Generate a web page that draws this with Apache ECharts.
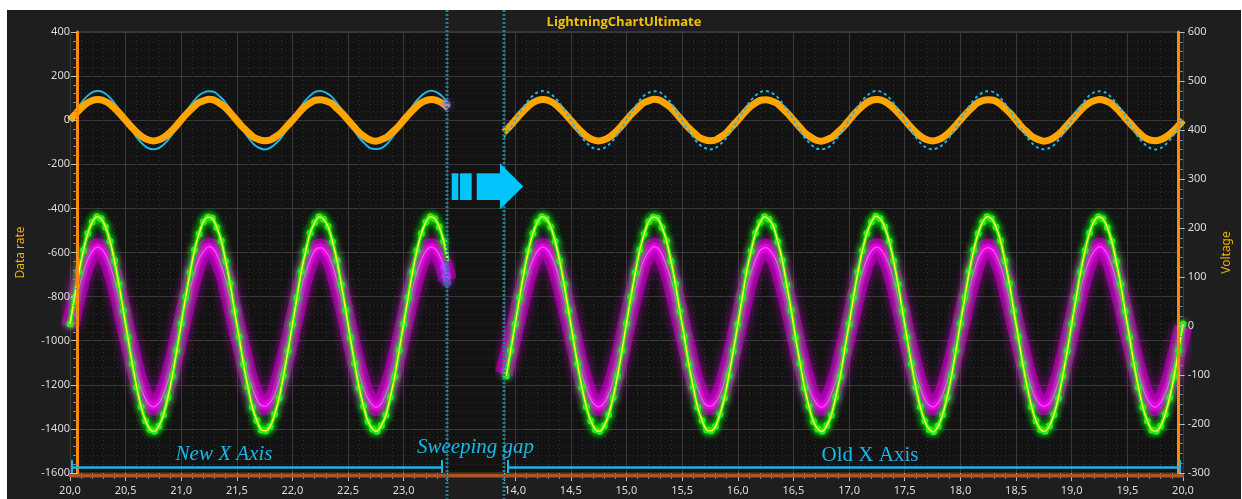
<!DOCTYPE html>
<html><head><meta charset="utf-8">
<script src="https://cdn.jsdelivr.net/npm/echarts@6/dist/echarts.min.js"></script>
<style>html,body{margin:0;padding:0;background:#fff;}#c{position:absolute;left:7px;top:10px;width:1234px;height:489px;}</style>
</head><body><div id="c"></div><script>
// ---- data ----
const yLeftTicks = { min: -1600, max: 400, step: 200 };
const yRightTicks = { min: -300, max: 600, step: 100 };
const newAxisRange = [20.0, 23.39];
const oldAxisRange = [13.9, 20.0];

// sampled every 0.05 s
const lineStep = 0.05;
const newLineStart = 20.0;
const oldLineStart = 13.9;
const cyanNew = [
 0,41,78,107,126,132,126,107,78,41,0,-41,-78,-107,-126,-132,-126,-107,-78,-41,
 1,42,77,108,125,131,127,106,79,40,-1,-42,-77,-108,-125,-133,-126,-106,-79,-40,
 0,40,79,107,127,132,125,108,77,42,1,-40,-79,-106,-127,-131,-127,-108,-77,-42,
 1,41,78,106,126,133,126,107,78];
const cyanOld = [-78,-41,
 0,41,78,107,126,132,126,107,78,41,0,-41,-78,-107,-126,-132,-126,-107,-78,-41,
 1,42,77,108,125,131,127,106,79,40,-1,-42,-77,-108,-125,-133,-126,-106,-79,-40,
 0,40,79,107,127,132,125,108,77,42,1,-40,-79,-106,-127,-131,-127,-108,-77,-42,
 1,41,78,106,126,133,126,107,78,41,0,-41,-78,-107,-126,-132,-125,-107,-78,-41,
 0,42,78,107,125,132,127,107,77,41,-1,-41,-77,-107,-126,-132,-126,-108,-78,-40,
 0,41,77,108,126,131,126,106,78,42,0,-42,-78,-106,-125,-133,-127,-107,-79,-41,
 0];
const orangeNew = [
 0,29,55,76,89,94,89,76,55,29,0,-29,-55,-76,-89,-94,-89,-76,-55,-29,
 1,30,54,77,88,95,90,75,56,28,-1,-30,-54,-77,-88,-93,-90,-75,-56,-28,
 -1,28,56,75,90,93,88,77,54,30,1,-28,-56,-75,-90,-95,-88,-77,-54,-30,
 0,29,55,76,89,94,89,76,55];
const orangeOld = [-55,-29,
 0,29,55,76,89,94,89,76,55,29,0,-29,-55,-76,-89,-94,-89,-76,-55,-29,
 1,30,54,77,88,95,90,75,56,28,-1,-30,-54,-77,-88,-93,-90,-75,-56,-28,
 -1,28,56,75,90,93,88,77,54,30,1,-28,-56,-75,-90,-95,-88,-77,-54,-30,
 0,30,55,76,90,94,89,75,55,29,1,-29,-55,-76,-89,-94,-89,-76,-55,-29,
 1,29,54,77,89,93,90,76,54,30,0,-30,-54,-76,-88,-95,-90,-76,-56,-28,
 0,28,56,76,88,94,89,77,55,28,-1,-28,-55,-77,-89,-93,-88,-75,-55,-30,
 0];
const magentaNew = [
 -2,48,94,130,153,161,153,130,94,48,-2,-52,-98,-134,-157,-165,-157,-134,-98,-52,
 -1,49,93,131,152,162,154,129,95,47,-3,-51,-99,-133,-158,-164,-156,-135,-97,-53,
 -3,47,95,129,154,160,152,131,93,49,-1,-53,-97,-135,-156,-166,-158,-133,-99,-51,
 -2,48,94,130,153,161,153,130,94];
const magentaOld = [-98,-52,
 -2,48,94,130,153,161,153,130,94,48,-2,-52,-98,-134,-157,-165,-157,-134,-98,-52,
 -1,49,93,131,152,162,154,129,95,47,-3,-51,-99,-133,-158,-164,-156,-135,-97,-53,
 -3,47,95,129,154,160,152,131,93,49,-1,-53,-97,-135,-156,-166,-158,-133,-99,-51,
 -2,49,94,130,153,161,152,130,95,48,-2,-52,-98,-133,-157,-165,-157,-134,-98,-52,
 -1,48,93,131,154,160,153,129,94,47,-2,-51,-97,-134,-156,-164,-158,-135,-99,-53,
 -2,47,95,130,152,162,154,131,93,48,-3,-53,-98,-134,-157,-166,-156,-133,-97,-51,
 -2];

// sampled every 0.04 s
const greenStep = 0.04;
const greenNewStart = 20.0;
const greenOldStart = 13.92;
const greenNew = [
 4,58,110,154,189,212,223,219,202,173,133,85,31,-23,-77,-125,-165,-194,-211,-215,-204,-181,-146,-102,-50,
 5,59,109,155,188,213,222,220,201,174,132,86,30,-22,-78,-124,-166,-193,-212,-214,-205,-180,-147,-101,-51,
 3,57,111,153,190,211,223,218,203,172,134,84,32,-24,-76,-126,-164,-195,-210,-215,-203,-182,-145,-103,-49,
 4,58,110,154,189,212,223,219,202,173,133];
const greenOld = [-102,-50,
 4,58,110,154,189,212,223,219,202,173,133,85,31,-23,-77,-125,-165,-194,-211,-215,-204,-181,-146,-102,-50,
 5,59,109,155,188,213,222,220,201,174,132,86,30,-22,-78,-124,-166,-193,-212,-214,-205,-180,-147,-101,-51,
 3,57,111,153,190,211,223,218,203,172,134,84,32,-24,-76,-126,-164,-195,-210,-215,-203,-182,-145,-103,-49,
 4,59,110,154,189,212,224,219,202,173,133,85,31,-23,-77,-125,-165,-194,-211,-216,-204,-181,-146,-102,-50,
 5,58,111,155,189,212,223,219,202,174,133,86,31,-22,-77,-124,-165,-194,-211,-215,-204,-181,-147,-102,-51,
 4,57,110,154,190,213,223,219,201,173,132,85,30,-23,-78,-125,-166,-194,-212,-215,-204,-180,-146,-103,-50,
 4];
// sweep head samples
const headLeft = [[23.385, 70]];
const headRight = [[23.37, 120], [23.38, 102], [23.39, 88]];

const title = 'LightningChartUltimate';
const yLeftName = 'Data rate';
const yRightName = 'Voltage';

// ---- build ----
function pairs(start, step, vals) { return vals.map((v, i) => [+(start + i * step).toFixed(2), v]); }
const fmtX = v => v.toFixed(1).replace('.', ',');
const fmtY = v => String(v);
const FONT = 'Noto Sans';
const GRID = { top: 22, height: 441 };
const majorSplit = { show: true, lineStyle: { color: '#3a3a3a', width: 1 } };
const minorSplit = { show: true, lineStyle: { color: '#2f2f2f', width: 1, type: [1, 3] } };
const xLabel = { color: '#dcdcdc', fontSize: 11, fontFamily: FONT, margin: 12, formatter: fmtX };

function xAxisFor(gi, range, opts) {
  return Object.assign({
    type: 'value', gridIndex: gi, position: 'bottom', min: range[0], max: range[1],
    axisLine: { show: false, onZero: false },
    axisTick: { show: true, length: 8, lineStyle: { color: '#bdbdbd' } },
    minorTick: { show: true, splitNumber: 5, length: 6, lineStyle: { color: '#8a8a8a' } },
    splitLine: majorSplit, minorSplitLine: minorSplit
  }, opts);
}
function hiddenY(gi, t) { return { type: 'value', gridIndex: gi, min: t.min, max: t.max, interval: t.step, show: false, axisLine: { onZero: false }, splitLine: { show: false } }; }

const chart = echarts.init(document.getElementById('c'));
chart.setOption({
  backgroundColor: '#1e1e1e',
  animation: false,
  title: { text: title, left: 'center', top: 1, textStyle: { color: '#f2c200', fontSize: 13, fontWeight: 'bold', fontFamily: 'Open Sans' } },
  grid: [
    Object.assign({ left: 63, width: 1113, show: true, backgroundColor: '#131313', borderColor: '#6e4418', borderWidth: 1, z: -1 }, GRID),
    Object.assign({ left: 63, width: 377 }, GRID),
    Object.assign({ left: 497, width: 679 }, GRID)
  ],
  xAxis: [
    { type: 'value', gridIndex: 0, min: 0, max: 1, axisLine: { show: false, onZero: false },
      axisTick: { show: false }, axisLabel: { show: false }, splitLine: { show: false } },
    xAxisFor(1, newAxisRange, { interval: 0.5, axisLabel: Object.assign({ showMaxLabel: false }, xLabel) }),
    xAxisFor(2, oldAxisRange, { minInterval: 0.5, maxInterval: 0.5, splitNumber: 12, axisLabel: Object.assign({ showMinLabel: false }, xLabel) })
  ],
  yAxis: [
    { type: 'value', gridIndex: 0, position: 'left', min: yLeftTicks.min, max: yLeftTicks.max, interval: yLeftTicks.step, z: 10,
      name: yLeftName, nameLocation: 'middle', nameGap: 50, nameRotate: 90, nameTextStyle: { color: '#e8b400', fontSize: 12, fontFamily: FONT },
      axisLine: { show: true, onZero: false, lineStyle: { color: '#ff8c00', width: 3 } },
      axisTick: { show: true, length: 6, lineStyle: { color: '#bdbdbd' } },
      minorTick: { show: true, splitNumber: 5, length: 4, lineStyle: { color: '#8a8a8a' } },
      axisLabel: { color: '#dcdcdc', fontSize: 11, fontFamily: FONT, margin: 7, formatter: fmtY },
      splitLine: { show: false } },
    { type: 'value', gridIndex: 0, position: 'right', min: yRightTicks.min, max: yRightTicks.max, interval: yRightTicks.step, z: 10,
      name: yRightName, nameLocation: 'middle', nameGap: 42, nameRotate: 90, nameTextStyle: { color: '#e8b400', fontSize: 12, fontFamily: FONT },
      axisLine: { show: true, onZero: false, lineStyle: { color: '#ff8c00', width: 3 } },
      axisTick: { show: true, length: 6, lineStyle: { color: '#bdbdbd' } },
      minorTick: { show: true, splitNumber: 5, length: 4, lineStyle: { color: '#8a8a8a' } },
      axisLabel: { color: '#dcdcdc', fontSize: 11, fontFamily: FONT, margin: 9, formatter: fmtY },
      splitLine: { show: false } },
    hiddenY(1, yLeftTicks), hiddenY(1, yRightTicks),
    hiddenY(2, yLeftTicks), hiddenY(2, yRightTicks),
    // horizontal grid lines (behind the series)
    { type: 'value', gridIndex: 0, position: 'left', min: yLeftTicks.min, max: yLeftTicks.max, interval: yLeftTicks.step, z: 0,
      axisLine: { show: false, onZero: false }, axisTick: { show: false }, axisLabel: { show: false },
      minorTick: { show: false, splitNumber: 5 }, splitLine: majorSplit, minorSplitLine: minorSplit }
  ],
  series: [].concat(...[[1, 2, 3, true], [2, 4, 5, false]].map(([xi, yl, yr, isNew]) => {
    const ls = isNew ? newLineStart : oldLineStart;
    const gs = isNew ? greenNewStart : greenOldStart;
    const mag = pairs(ls, lineStep, isNew ? magentaNew : magentaOld);
    const grn = pairs(gs, greenStep, isNew ? greenNew : greenOld);
    const out = [
      { type: 'line', xAxisIndex: xi, yAxisIndex: yr, data: mag, smooth: 0.3, showSymbol: false, z: 2,
        lineStyle: { color: 'rgba(190,0,190,0.6)', width: 18, shadowBlur: 10, shadowColor: 'rgba(210,0,210,1)' } },
      { type: 'line', xAxisIndex: xi, yAxisIndex: yr, data: mag, smooth: 0.3, showSymbol: false, z: 3,
        lineStyle: { color: 'rgba(230,0,230,0.85)', width: 7, shadowBlur: 5, shadowColor: '#e000e0' } },
      { type: 'line', xAxisIndex: xi, yAxisIndex: yr, data: mag, smooth: 0.3, showSymbol: false, z: 4,
        lineStyle: { color: '#ff50ff', width: 1.2 } },
      { type: 'line', xAxisIndex: xi, yAxisIndex: yr, data: grn, smooth: 0.3, symbol: 'circle', symbolSize: 7, showSymbol: true, z: 5,
        itemStyle: { color: '#2fe62f', shadowBlur: 6, shadowColor: '#00ff00' },
        lineStyle: { color: '#22dd22', width: 4, shadowBlur: 7, shadowColor: '#00ff00' } },
      { type: 'line', xAxisIndex: xi, yAxisIndex: yr, data: grn, smooth: 0.3, showSymbol: false, z: 6,
        lineStyle: { color: '#ffff20', width: 1.5 } },
      { type: 'line', xAxisIndex: xi, yAxisIndex: yl, data: pairs(ls, lineStep, isNew ? cyanNew : cyanOld), smooth: 0.3, showSymbol: false, z: isNew ? 5 : 8,
        lineStyle: { color: '#1eb6ea', width: 2, type: isNew ? 'solid' : [3, 3] } },
      { type: 'line', xAxisIndex: xi, yAxisIndex: yl, data: pairs(ls, lineStep, isNew ? orangeNew : orangeOld), smooth: 0.3, showSymbol: false, z: 7,
        lineStyle: { color: '#ffa500', width: 7 } }
    ];
    if (isNew) {
      out.push({ type: 'scatter', xAxisIndex: xi, yAxisIndex: yr, data: headRight, symbolSize: 9, z: 9,
        itemStyle: { color: 'rgba(130,110,255,0.55)', shadowBlur: 6, shadowColor: '#8060ff' } });
      out.push({ type: 'scatter', xAxisIndex: xi, yAxisIndex: yl, data: headLeft, symbolSize: 9, z: 9,
        itemStyle: { color: 'rgba(150,120,255,0.55)', shadowBlur: 6, shadowColor: '#8060ff' } });
    }
    return out;
  })),
  graphic: [
    // bottom axis band
    { type: 'rect', shape: { x: 62, y: 464, width: 1115, height: 3.5 }, style: { fill: '#a9552a' }, z: 45 },
    // sweep gap markers
    { type: 'line', shape: { x1: 440, y1: 0, x2: 440, y2: 489 }, style: { stroke: '#1f7f99', lineWidth: 3, lineDash: [2, 2] }, z: 50 },
    { type: 'line', shape: { x1: 497, y1: 0, x2: 497, y2: 489 }, style: { stroke: '#1f7f99', lineWidth: 3, lineDash: [2, 2] }, z: 50 },
    // arrow
    { type: 'rect', shape: { x: 444.7, y: 163.3, width: 6.6, height: 26.7 }, style: { fill: '#00c4fa' }, z: 60 },
    { type: 'rect', shape: { x: 453, y: 163.3, width: 11.7, height: 26.7 }, style: { fill: '#00c4fa' }, z: 60 },
    { type: 'rect', shape: { x: 469.7, y: 163.3, width: 23.6, height: 26.7 }, style: { fill: '#00c4fa' }, z: 60 },
    { type: 'polygon', shape: { points: [[493, 153.3], [516.3, 176.5], [493, 199.3]] }, style: { fill: '#00c4fa' }, z: 60 },
    // axis annotations
    { type: 'line', shape: { x1: 65, y1: 457.5, x2: 435, y2: 457.5 }, style: { stroke: '#16b8ea', lineWidth: 2.5 }, z: 60 },
    { type: 'line', shape: { x1: 65, y1: 450, x2: 65, y2: 463 }, style: { stroke: '#16b8ea', lineWidth: 2 }, z: 60 },
    { type: 'line', shape: { x1: 435, y1: 450, x2: 435, y2: 463 }, style: { stroke: '#16b8ea', lineWidth: 2 }, z: 60 },
    { type: 'line', shape: { x1: 501, y1: 457.5, x2: 1173, y2: 457.5 }, style: { stroke: '#16b8ea', lineWidth: 2.5 }, z: 60 },
    { type: 'line', shape: { x1: 501, y1: 450, x2: 501, y2: 463 }, style: { stroke: '#16b8ea', lineWidth: 2 }, z: 60 },
    { type: 'line', shape: { x1: 1173, y1: 450, x2: 1173, y2: 463 }, style: { stroke: '#16b8ea', lineWidth: 2 }, z: 60 },
    { type: 'text', x: 217, y: 444, style: { text: 'New X Axis', fill: '#16b8ea', font: 'italic 21px "Liberation Serif"', align: 'center', verticalAlign: 'middle' }, z: 60 },
    { type: 'text', x: 468.5, y: 437, style: { text: 'Sweeping gap', fill: '#16b8ea', font: 'italic 21px "Liberation Serif"', align: 'center', verticalAlign: 'middle' }, z: 60 },
    { type: 'text', x: 863, y: 445, style: { text: 'Old X Axis', fill: '#16b8ea', font: '21px "Liberation Serif"', align: 'center', verticalAlign: 'middle' }, z: 60 }
  ]
});
</script></body></html>
